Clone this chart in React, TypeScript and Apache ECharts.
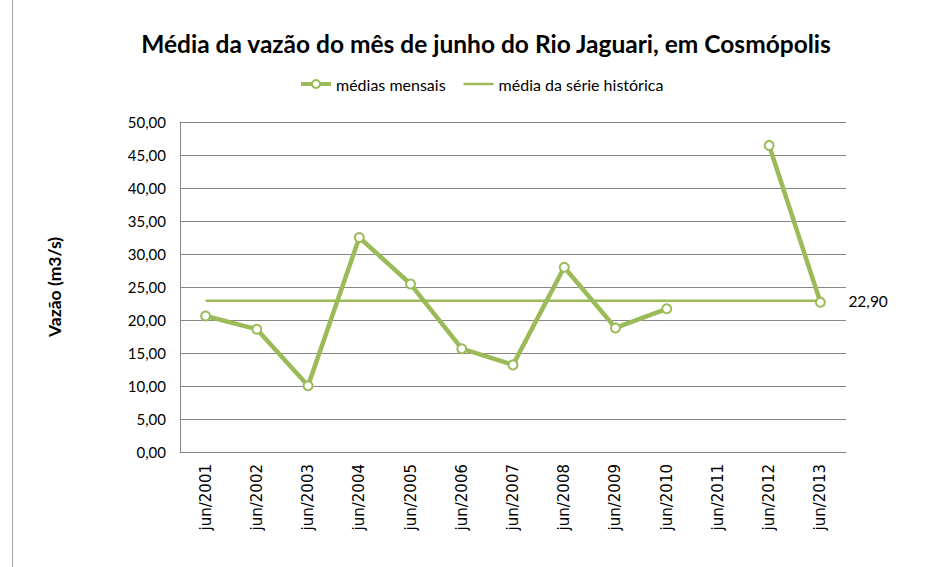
import React, { useEffect, useRef } from "react";
import * as echarts from "echarts";

const categories = [
  "jun/2001", "jun/2002", "jun/2003", "jun/2004", "jun/2005", "jun/2006", "jun/2007",
  "jun/2008", "jun/2009", "jun/2010", "jun/2011", "jun/2012", "jun/2013",
];
const monthlyMeans: (number | null)[] = [
  20.6, 18.6, 10.05, 32.5, 25.45, 15.65, 13.2, 28.0, 18.8, 21.7, null, 46.45, 22.7,
];
const historicalMean = 22.9;
const seriesNames = ["médias mensais", "média da série histórica"];

const GREEN = "#9BBB59";
const FONT = "Lato, 'Open Sans', sans-serif";
const fmt = (v: number) => v.toFixed(2).replace(".", ",");

export default function App() {
  const ref = useRef<HTMLDivElement>(null);
  useEffect(() => {
    if (!ref.current) return;
    const chart = echarts.init(ref.current, undefined, { renderer: "svg" });
    chart.setOption({
      animation: false,
      backgroundColor: "#ffffff",
      textStyle: { fontFamily: FONT },
      title: {
        text: "Média da vazão do mês de junho do Rio Jaguari, em Cosmópolis",
        left: 481,
        top: 26,
        textAlign: "center",
        textStyle: { fontFamily: FONT, fontWeight: "bold", fontSize: 24.5, color: "#000" },
      },
      legend: {
        left: 294,
        top: 71,
        itemWidth: 30,
        itemHeight: 10,
        itemGap: 18,
        data: [
          { name: seriesNames[0], lineStyle: { width: 4 } },
          { name: seriesNames[1], icon: "path://M0,0 L30,0 L30,2.5 L0,2.5 Z" },
        ],
        textStyle: { fontFamily: FONT, fontSize: 16, color: "#000" },
      },
      grid: { left: 180, right: 91, top: 122, bottom: 115 },
      xAxis: {
        type: "category",
        data: categories,
        boundaryGap: true,
        axisLine: { lineStyle: { color: "#868686", width: 1 } },
        axisTick: { show: false },
        axisLabel: {
          rotate: 90,
          margin: 12,
          fontFamily: "'DejaVu Sans', sans-serif",
          fontSize: 15,
          color: "#000",
          interval: 0,
        },
      },
      yAxis: {
        type: "value",
        min: 0,
        max: 50,
        interval: 5,
        name: "Vazão (m3/s)",
        nameLocation: "middle",
        nameGap: 117,
        nameRotate: 90,
        nameTextStyle: { fontFamily: FONT, fontWeight: "bold", fontSize: 17.5, color: "#000" },
        axisLine: { show: true, lineStyle: { color: "#868686", width: 1 } },
        axisTick: { show: false },
        splitLine: { lineStyle: { color: "#868686", width: 1 } },
        axisLabel: {
          margin: 14,
          fontFamily: FONT,
          fontSize: 15,
          color: "#000",
          formatter: (v: number) => fmt(v),
        },
      },
      series: [
        {
          name: seriesNames[1],
          type: "line",
          data: categories.map(() => historicalMean),
          symbol: "none",
          z: 2,
          lineStyle: { color: GREEN, width: 2.5 },
          itemStyle: { color: GREEN },
          endLabel: {
            show: true,
            formatter: () => fmt(historicalMean),
            distance: 28,
            fontFamily: FONT,
            fontSize: 15.5,
            color: "#000",
          },
        },
        {
          name: seriesNames[0],
          type: "line",
          data: monthlyMeans,
          connectNulls: false,
          symbol: "emptyCircle",
          symbolSize: 9,
          z: 3,
          lineStyle: { color: GREEN, width: 4.5 },
          itemStyle: { color: GREEN, borderColor: GREEN, borderWidth: 3 },
        },
      ],
      graphic: [
        {
          type: "line",
          shape: { x1: 12.5, y1: 0, x2: 12.5, y2: 567 },
          style: { stroke: "#a6a6a6", lineWidth: 1 },
          silent: true,
        },
      ],
    });
    return () => chart.dispose();
  }, []);
  return (
    <div
      ref={ref}
      style={{ position: "fixed", left: 0, top: 0, width: 937, height: 567 }}
    />
  );
}
